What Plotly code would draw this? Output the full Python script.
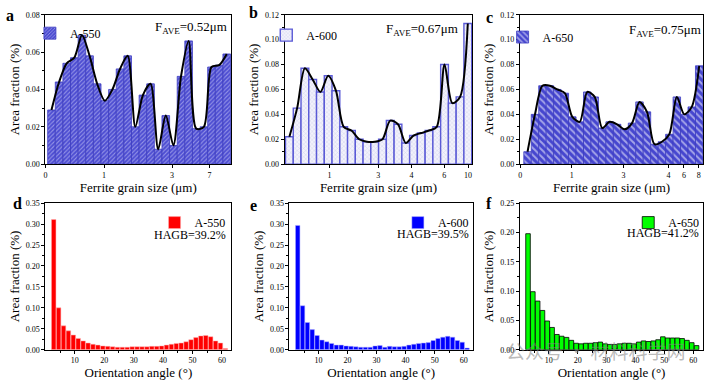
import numpy as np
import plotly.graph_objects as go

# ---------------- data ----------------
# grain size histograms (bin index -> area fraction)
a_vals = [0.029, 0.044, 0.054, 0.057, 0.069, 0.058, 0.043, 0.034, 0.040, 0.051, 0.058, 0.020,
          0.037, 0.043, 0.008, 0.026, 0.010, 0.047, 0.066, 0.019, 0.020, 0.052, 0.053, 0.059]
b_vals = [0.022, 0.045, 0.077, 0.068, 0.058, 0.071, 0.059, 0.030, 0.027, 0.020, 0.018, 0.018,
          0.020, 0.035, 0.032, 0.017, 0.023, 0.025, 0.027, 0.030, 0.080, 0.049, 0.054, 0.113]
c_vals = [0.010, 0.040, 0.063, 0.063, 0.060, 0.057, 0.038, 0.034, 0.058, 0.054, 0.029, 0.034,
          0.032, 0.028, 0.033, 0.050, 0.042, 0.016, 0.018, 0.024, 0.054, 0.040, 0.046, 0.079]
a_tickpos = [-0.78, 6.9, 15.83, 20.75]
a_ticktext = ["0", "1", "3", "7"]
b_tickpos = [5.16, 11.46, 15.74, 19.95, 23.03]
b_ticktext = ["1", "3", "4", "6", "10"]
c_tickpos = [-0.98, 5.92, 12.86, 18.88, 20.96, 22.95]
c_ticktext = ["0", "1", "3", "4", "6", "8"]

# misorientation histograms (2-62 deg bins)
angle_edges = np.linspace(2, 62, 37)
angle_centers = (angle_edges[:-1] + angle_edges[1:]) / 2
d_vals = [0.311, 0.100, 0.057, 0.045, 0.035, 0.027, 0.021, 0.016, 0.013, 0.011, 0.009, 0.008,
          0.007, 0.006, 0.006, 0.006, 0.007, 0.007, 0.007, 0.007, 0.008, 0.008, 0.009, 0.011,
          0.013, 0.015, 0.016, 0.019, 0.024, 0.029, 0.033, 0.034, 0.031, 0.021, 0.016, 0.003]
e_vals = [0.297, 0.105, 0.065, 0.048, 0.034, 0.023, 0.019, 0.015, 0.011, 0.011, 0.009, 0.008,
          0.007, 0.006, 0.006, 0.006, 0.009, 0.010, 0.006, 0.008, 0.007, 0.007, 0.008, 0.011,
          0.013, 0.015, 0.016, 0.017, 0.022, 0.027, 0.030, 0.032, 0.030, 0.022, 0.018, 0.004]
f_vals = [0.198, 0.099, 0.083, 0.067, 0.049, 0.038, 0.026, 0.023, 0.021, 0.016, 0.011, 0.010,
          0.011, 0.011, 0.012, 0.013, 0.010, 0.009, 0.009, 0.010, 0.011, 0.011, 0.010, 0.013,
          0.015, 0.014, 0.015, 0.017, 0.022, 0.020, 0.020, 0.020, 0.019, 0.016, 0.012, 0.007]

labels = ["A-550", "A-600", "A-650"]
fave = ["0.52", "0.67", "0.75"]
hagb = ["39.2", "39.5", "41.2"]

SERIF = "Liberation Serif, Times New Roman, serif"
W, H = 710, 384

fig = go.Figure()

idx = list(range(24))
top_specs = [
    (a_vals, dict(shape="/", bgcolor="#4d4dd2", fgcolor="#dcdcfa", size=3, solidity=0.35), "#3c3cc0", 0.8),
    (b_vals, dict(shape="x", bgcolor="#f2f2fb", fgcolor="#a4a4dc", size=3, solidity=0.25), "#5a5ad6", 1.4),
    (c_vals, dict(shape="\\", bgcolor="#4646cf", fgcolor="#ffffff", size=5, solidity=0.4), "#3c3cc0", 0.8),
]
for k, (vals, pat, lc, lw) in enumerate(top_specs):
    n = k + 1
    xa = "x" if n == 1 else f"x{n}"
    ya = "y" if n == 1 else f"y{n}"
    lg = "legend" if n == 1 else f"legend{n}"
    fig.add_trace(go.Bar(x=idx, y=vals, width=1.0, name=labels[k],
                         marker=dict(pattern=pat, line=dict(color=lc, width=lw)),
                         xaxis=xa, yaxis=ya, legend=lg, showlegend=True))
    fig.add_trace(go.Scatter(x=idx, y=vals, mode="lines",
                             line=dict(color="black", width=2, shape="spline", smoothing=0.8),
                             xaxis=xa, yaxis=ya, showlegend=False, hoverinfo="skip"))

bw = angle_edges[1] - angle_edges[0]
bot_specs = [
    (d_vals, "#ff0000", dict(color="#ffb0b0", width=0.5), 0.92),
    (e_vals, "#0000ff", dict(color="#b0b0ff", width=0.5), 0.92),
    (f_vals, "#00ff00", dict(color="#000000", width=0.8), 0.95),
]
for k, (vals, col, line, wf) in enumerate(bot_specs):
    n = k + 4
    fig.add_trace(go.Bar(x=angle_centers, y=vals, width=bw * wf, name=labels[k],
                         marker=dict(color=col, line=line),
                         xaxis=f"x{n}", yaxis=f"y{n}", legend=f"legend{n}", showlegend=True))

# ---------------- layout ----------------
def px_x(v):
    return v / W

def px_y(v):
    return 1 - v / H

doms = [
    ([43.5, 229.8], [11, 164]),
    ([283.3, 471.7], [11, 164]),
    ([519.3, 703.3], [11, 164]),
    ([43.5, 230.0], [204, 354]),
    ([288.3, 472.3], [204, 354]),
    ([519.3, 703.3], [204, 354]),
]
xranges = [[-0.8, 23.58], [-0.63, 23.59], [-1.03, 23.55], [0, 63.2], [0, 63.2], [0, 63.5]]
yranges = [[0, 0.08], [0, 0.12], [0, 0.12], [0, 0.35], [0, 0.35], [0, 0.25]]
ydt = [0.02, 0.02, 0.02, 0.05, 0.05, 0.05]
top_ticks = [(a_tickpos, a_ticktext), (b_tickpos, b_ticktext), (c_tickpos, c_ticktext)]

common = dict(showline=True, mirror=True, linecolor="black", linewidth=1, ticks="outside",
              ticklen=3, tickwidth=1, tickcolor="black", showgrid=False, zeroline=False,
              tickfont=dict(family=SERIF, size=8, color="black"))
layout = {}
for i in range(6):
    n = i + 1
    xs = "xaxis" if n == 1 else f"xaxis{n}"
    ys = "yaxis" if n == 1 else f"yaxis{n}"
    yref = "y" if n == 1 else f"y{n}"
    xref = "x" if n == 1 else f"x{n}"
    (x0, x1), (yt, yb) = doms[i]
    xd = [px_x(x0), px_x(x1)]
    yd = [px_y(yb), px_y(yt)]
    xa = dict(common, domain=xd, anchor=yref, range=xranges[i],
              title=dict(text="Ferrite grain size (μm)" if i < 3 else "Orientation angle (°)",
                         font=dict(family=SERIF, size=13, color="black"), standoff=2))
    if i < 3:
        tv, tt = top_ticks[i]
        xa.update(tickmode="array", tickvals=tv, ticktext=tt)
    else:
        xa.update(tickmode="array", tickvals=[10, 20, 30, 40, 50, 60],
                  minor=dict(tickmode="array", tickvals=[5, 15, 25, 35, 45, 55],
                             ticklen=2, tickcolor="black", ticks="outside"))
    ya = dict(common, domain=yd, anchor=xref, range=yranges[i], dtick=ydt[i], tick0=0,
              tickformat=".2f",
              minor=dict(dtick=ydt[i] / 2, ticklen=2, tickcolor="black", ticks="outside"),
              title=dict(text="Area fraction (%)", font=dict(family=SERIF, size=13, color="black"),
                         standoff=3))
    layout[xs] = xa
    layout[ys] = ya

# legends
leg_pos = [(28, 15), (265, 17), (502, 19), (153, 209), (397, 209), (628, 209)]
for i, (lx, ly) in enumerate(leg_pos):
    key = "legend" if i == 0 else f"legend{i + 1}"
    layout[key] = dict(x=px_x(lx), y=px_y(ly), xanchor="left", yanchor="top",
                       bgcolor="rgba(0,0,0,0)", borderwidth=0,
                       font=dict(family=SERIF, size=12, color="black"), itemwidth=30)

anns = []
# panel letters
for t, (x, y) in zip("abcdef", [(8, 12), (252, 9), (489, 14), (16, 204), (252, 206), (488, 204)]):
    anns.append(dict(text=f"<b>{t}</b>", x=px_x(x), y=px_y(y), xref="paper", yref="paper",
                     xanchor="center", yanchor="middle",
                     showarrow=False, font=dict(family=SERIF, size=16, color="black")))
# F_AVE annotations
for k, (x, y) in enumerate([(228, 24), (459, 26), (703, 27)]):
    anns.append(dict(text=f"F<sub>AVE</sub>={fave[k]}μm", x=px_x(x), y=px_y(y), xref="paper",
                     yref="paper", xanchor="right", yanchor="middle", showarrow=False,
                     font=dict(family=SERIF, size=13, color="black")))
# HAGB annotations
for k, (x, y) in enumerate([(227, 237), (470, 236), (701, 234)]):
    anns.append(dict(text=f"HAGB={hagb[k]}%", x=px_x(x), y=px_y(y), xref="paper", yref="paper",
                     xanchor="right", yanchor="middle", showarrow=False,
                     font=dict(family=SERIF, size=12, color="black")))
# watermark
anns.append(dict(text="公众号 · 材料科学网", x=px_x(596), y=px_y(355), xref="paper", yref="paper",
                 xanchor="center", yanchor="middle",
                 showarrow=False, font=dict(family="Noto Sans CJK SC", size=19,
                                            color="rgba(130,130,130,0.55)")))

fig.update_layout(**layout)
fig.update_layout(width=W, height=H, margin=dict(l=0, r=0, t=0, b=0),
                  paper_bgcolor="white", plot_bgcolor="white", annotations=anns,
                  barmode="overlay", showlegend=True,
                  font=dict(family=SERIF, color="black"))

fig.write_html("out.html", config={"displayModeBar": False},
               post_script="document.body.style.margin='0';document.body.style.padding='0';")
